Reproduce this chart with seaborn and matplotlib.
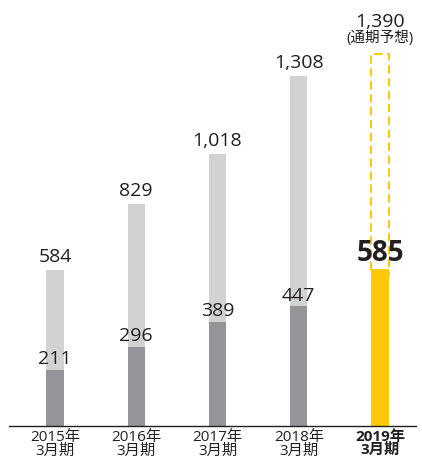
import numpy as np
import matplotlib
matplotlib.use("Agg")
import matplotlib.pyplot as plt
import seaborn as sns

# Data
periods = ["2015年\n3月期", "2016年\n3月期", "2017年\n3月期", "2018年\n3月期", "2019年\n3月期"]
totals = [584, 829, 1018, 1308, 1390]
actuals = [211, 296, 389, 447, 585]
forecast_note = "(通期予想)"

LIGHT = "#d1d2d4"
DARK = "#939598"
YELLOW = "#ffc90a"
TEXT = "#231f20"

sns.set_style("white")
plt.rcParams["font.family"] = ["Open Sans", "Noto Sans CJK JP", "DejaVu Sans"]

fig = plt.figure(figsize=(4.22, 4.61), dpi=100)
ax = fig.add_axes([9 / 422, 35 / 461, 407 / 422, 426 / 461])

x = np.arange(len(periods))
bw = 0.21

# total bars (last one is the forecast, drawn as dashed outline)
sns.barplot(x=x, y=totals, hue=x, palette=[LIGHT] * 4 + ["none"], legend=False,
            width=bw, ax=ax, native_scale=True, saturation=1, linewidth=0)
fc = ax.patches[-1]
fc.set_facecolor("none")
fc.set_edgecolor(YELLOW)
fc.set_linewidth(1.5)
fc.set_linestyle((0, (4, 2.2)))
fc.set_y(actuals[-1] - 20)
fc.set_height(totals[-1] - actuals[-1] + 20)

# actual bars
sns.barplot(x=x, y=actuals, hue=x, palette=[DARK] * 4 + [YELLOW], legend=False,
            width=bw, ax=ax, native_scale=True, saturation=1, linewidth=0)

# labels
n = len(periods)
for i in range(n):
    if i == n - 1:
        ax.text(x[i], totals[i] + 102, f"{totals[i]:,}", ha="center", va="baseline",
                fontsize=14, color=TEXT)
        ax.text(x[i], totals[i] + 46, forecast_note, ha="center", va="baseline",
                fontsize=10.5, color=TEXT)
        ax.text(x[i], actuals[i] + 30, f"{actuals[i]:,}", ha="center", va="baseline",
                fontsize=20, fontweight="bold", color=TEXT)
    else:
        ax.text(x[i], totals[i] + 30, f"{totals[i]:,}", ha="center", va="baseline",
                fontsize=14, color=TEXT)
        ax.text(x[i], actuals[i] + 22, f"{actuals[i]:,}", ha="center", va="baseline",
                fontsize=14, color=TEXT)

ax.set_xlim(-0.566, 4.443)
ax.set_ylim(0, 1592)
ax.set_xticks(x)
ax.set_xticklabels(periods, fontsize=11, color=TEXT, linespacing=0.9)
ax.get_xticklabels()[-1].set_fontweight("bold")
ax.tick_params(axis="x", length=0, pad=3)
ax.set_yticks([])
ax.set_xlabel("")
ax.set_ylabel("")
sns.despine(ax=ax, left=True)
ax.spines["bottom"].set_color(TEXT)
ax.spines["bottom"].set_linewidth(1)

fig.savefig("out.png", dpi=100)
